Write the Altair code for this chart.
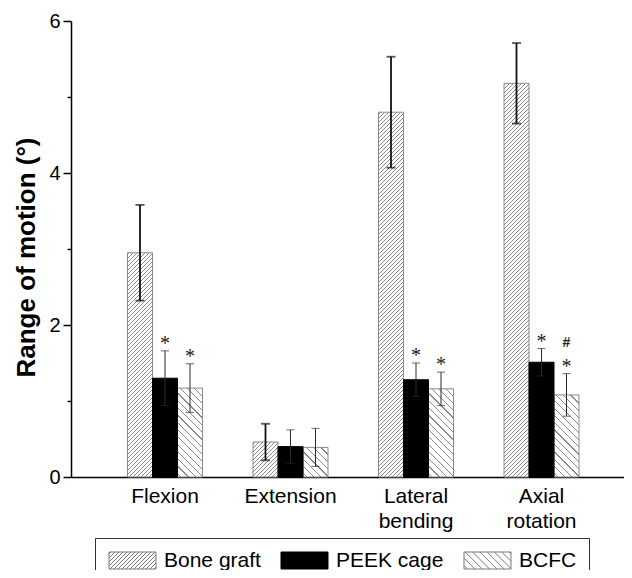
import altair as alt
import pandas as pd

# ---------------- data ----------------
groups = ["Flexion", "Extension", "Lateral bending", "Axial rotation"]
series = ["Bone graft", "PEEK cage", "BCFC"]
bone_graft_mean = [2.95, 0.46, 4.80, 5.18]
bone_graft_sd = [0.63, 0.24, 0.73, 0.53]
peek_mean = [1.30, 0.40, 1.28, 1.51]
peek_sd = [0.36, 0.22, 0.22, 0.18]
bcfc_mean = [1.17, 0.39, 1.16, 1.08]
bcfc_sd = [0.32, 0.25, 0.22, 0.28]
bone_graft_star = ["", "", "", ""]
peek_star = ["*", "", "*", "*"]
bcfc_star = ["*", "", "*", "*"]
bone_graft_hash = ["", "", "", ""]
peek_hash = ["", "", "", ""]
bcfc_hash = ["", "", "", "#"]
y_ticks = [0, 1, 2, 3, 4, 5, 6]
y_title = "Range of motion (°)"

# ---------------- layout / style ----------------
PLOT_W, PLOT_H = 553, 456
Y_MAX = 6
STEP = 125.5
GROUP_W = 75.0
FIRST_CENTER = 94.0
N = len(groups)
p_inner = 1 - GROUP_W / STEP
p_outer = (PLOT_W / STEP - (N - p_inner)) / 2
x_align = (FIRST_CENTER - GROUP_W / 2) / (PLOT_W - STEP * (N - p_inner))
BAR_W = GROUP_W / len(series)
HATCH = "#8a8a8a"
OUTLINE = "#8a8a8a"
FONT = "Liberation Sans"

rows = []
for s, means, sds, stars, hashes in zip(series,
                                        [bone_graft_mean, peek_mean, bcfc_mean],
                                        [bone_graft_sd, peek_sd, bcfc_sd],
                                        [bone_graft_star, peek_star, bcfc_star],
                                        [bone_graft_hash, peek_hash, bcfc_hash]):
    for g, m, sd, st, hs in zip(groups, means, sds, stars, hashes):
        rows.append(dict(group=g, series=s, mean=m, lo=m - sd, hi=m + sd, star=st, hash=hs))
df = pd.DataFrame(rows)


def hatch_fill(height_px, period, direction, half=0.62):
    W = BAR_W
    H = max(height_px, 1.0)
    L = W + H
    k = L * W / (W * W + H * H)
    if direction == "/":
        x1, y1, x2, y2 = 0, 0, k, k * H / W
    else:
        x1, y1, x2, y2 = 0, 1, k, 1 - k * H / W
    stops = [{"offset": 0, "color": "white"}]
    c = period / 2
    while c < L:
        a = round(max(0.0, (c - half) / L), 5)
        b = round(min(1.0, (c + half) / L), 5)
        stops += [{"offset": a, "color": "white"}, {"offset": a, "color": HATCH},
                  {"offset": b, "color": HATCH}, {"offset": b, "color": "white"}]
        c += period
    stops.append({"offset": 1, "color": "white"})
    return {"gradient": "linear", "x1": round(x1, 5), "y1": round(y1, 5),
            "x2": round(x2, 5), "y2": round(y2, 5), "stops": stops}


def swatch_path(period, direction):
    u = 8.5
    w, h = 47.0, 17.0
    def P(px, py):
        return f"{-1 + px / u:.3f},{-1 + py / u:.3f}"
    d = f"M{P(0,0)}L{P(w,0)}L{P(w,h)}L{P(0,h)}Z"
    if direction is None:
        return d
    if direction == "/":
        c = period / 2
        while c < w + h:
            p0 = max(0.0, c - h); p1 = min(w, c)
            d += f"M{P(p0, c - p0)}L{P(p1, c - p1)}"
            c += period
    else:
        c = -h + period / 2
        while c < w:
            p0 = max(0.0, c); p1 = min(w, c + h)
            d += f"M{P(p0, p0 - c)}L{P(p1, p1 - c)}"
            c += period
    return d


x_enc = alt.X("group:N", sort=groups,
              scale=alt.Scale(domain=groups, paddingInner=p_inner, paddingOuter=p_outer, align=x_align),
              axis=alt.Axis(title=None, ticks=False, labelAngle=0, labelFontSize=21, labelPadding=8,
                            labelExpr="split(datum.label, ' ')", labelLineHeight=25,
                            labelBaseline="top", domainWidth=1.5, domainColor="black",
                            labelColor="black", labelFont=FONT))
xo_enc = alt.XOffset("series:N", sort=series,
                     scale=alt.Scale(domain=series, paddingInner=0, paddingOuter=0))
y_scale = alt.Scale(domain=[0, Y_MAX], nice=False, zero=True)
y_enc = alt.Y("mean:Q", scale=y_scale,
              axis=alt.Axis(values=y_ticks, grid=False, format="d",
                            labelExpr="datum.value % 2 === 0 ? datum.label : ''",
                            tickSize={"condition": {"test": "datum.value % 2 === 1", "value": 4}, "value": 8},
                            tickWidth=1.5, tickColor="black", domainWidth=1.5, domainColor="black",
                            labelFontSize=20, labelPadding=3, labelColor="black", labelFont=FONT,
                            title=y_title, titleFontSize=26, titleFontWeight="bold",
                            titleFont=FONT, titleColor="black", titlePadding=9, titleY=236))

base = alt.Chart(df).encode(x=x_enc, xOffset=xo_enc, y=y_enc)

layers = []
for s, direction, period in [("Bone graft", "/", 4.0), ("BCFC", "\\", 7.3)]:
    for g in groups:
        m = df[(df.series == s) & (df.group == g)]["mean"].iloc[0]
        fill = hatch_fill(m * PLOT_H / Y_MAX, period, direction)
        layers.append(
            base.transform_filter(f"datum.series == '{s}' && datum.group == '{g}'")
            .mark_bar(fill=fill, stroke=OUTLINE, strokeWidth=1)
        )

layers.append(base.transform_filter("datum.series == 'PEEK cage'")
              .mark_bar(fill="black", stroke="black", strokeWidth=1))

# error bars
err_base = alt.Chart(df).encode(x=x_enc, xOffset=xo_enc)
for cond, sw, col, cap in [("datum.series == 'Bone graft'", 1.8, "#111111", 9),
                           ("datum.series != 'Bone graft'", 1.0, "#2a2a2a", 8)]:
    layers.append(err_base.transform_filter(cond).mark_rule(strokeWidth=sw, color=col)
                  .encode(y=alt.Y("lo:Q", scale=y_scale), y2="hi:Q"))
    layers.append(err_base.transform_filter(cond).mark_tick(size=cap, thickness=sw, color=col)
                  .encode(y=alt.Y("hi:Q", scale=y_scale)))
    layers.append(err_base.transform_filter(cond).mark_tick(size=cap, thickness=sw, color=col)
                  .encode(y=alt.Y("lo:Q", scale=y_scale)))

# significance marks
layers.append(
    alt.Chart(df).transform_filter("datum.star != ''")
    .mark_text(font="Liberation Serif", fontSize=20, baseline="bottom", dy=3, color="#222222")
    .encode(x=x_enc, xOffset=xo_enc, y=alt.Y("hi:Q", scale=y_scale), text="star:N")
)
layers.append(
    alt.Chart(df).transform_filter("datum.hash != ''")
    .mark_text(font="Liberation Sans", fontSize=14, fontWeight="bold", baseline="middle", dy=-31,
               color="#222222")
    .encode(x=x_enc, xOffset=xo_enc, y=alt.Y("hi:Q", scale=y_scale), text="hash:N")
)

# legend carrier (invisible points)
legend_paths = [swatch_path(4.0, "/"), swatch_path(0, None), swatch_path(7.3, "\\")]
layers.append(
    alt.Chart(df).mark_point(size=0, filled=True)
    .encode(x=x_enc, xOffset=xo_enc, y=alt.Y("mean:Q", scale=y_scale),
            fill=alt.Fill("series:N", sort=series,
                          scale=alt.Scale(domain=series, range=["white", "black", "white"]),
                          legend=alt.Legend(title=None)),
            stroke=alt.Stroke("series:N", sort=series,
                              scale=alt.Scale(domain=series, range=["#7a7a7a", "black", "#7a7a7a"]),
                              legend=alt.Legend(title=None)),
            shape=alt.Shape("series:N", sort=series,
                            scale=alt.Scale(domain=series, range=legend_paths),
                            legend=alt.Legend(title=None)))
)

chart = alt.layer(*layers).properties(
    width=PLOT_W, height=PLOT_H,
    autosize=alt.AutoSizeParams(type="none"),
    padding={"left": 63, "top": 13, "right": 0, "bottom": 93},
).configure(font=FONT).configure_view(stroke=None).configure_legend(
    orient="none", legendX=24, legendY=517, direction="horizontal",
    strokeColor="#333333", padding=12, symbolSize=289,
    symbolStrokeWidth=1, symbolOpacity=1,
    labelFontSize=21, labelFont=FONT, labelColor="black", labelOffset=36,
    columnPadding=18, labelLimit=0,
)

chart.save("out.html", embed_options={"renderer": "svg", "actions": False})
